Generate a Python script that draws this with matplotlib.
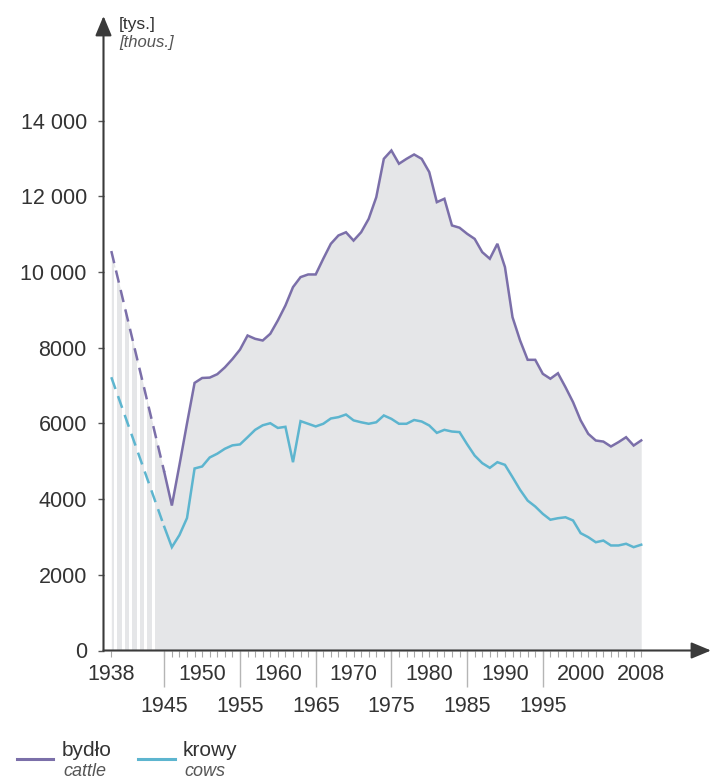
import matplotlib
matplotlib.use('Agg')
import matplotlib.pyplot as plt
import numpy as np
from matplotlib.lines import Line2D

plt.rcParams['font.family'] = ['Liberation Sans', 'DejaVu Sans']

# ---------------- data ----------------
prewar_year = 1938
prewar_cattle = 10554
prewar_cows = 7220

years = list(range(1945, 2009))
cattle = [4711, 3830, 4900, 6000, 7070, 7200, 7210, 7300, 7480, 7700,
          7950, 8322, 8235, 8190, 8368, 8720, 9115, 9600, 9865, 9935,
          9935, 10350, 10745, 10965, 11050, 10830, 11050, 11405, 11975, 12990,
          13210, 12860, 12990, 13105, 12990, 12640, 11845, 11935, 11230, 11170,
          11010, 10875, 10525, 10350, 10745, 10130, 8805, 8190, 7680, 7680,
          7310, 7180, 7325, 6955, 6560, 6080, 5725, 5548, 5520, 5390,
          5505, 5635, 5415, 5550]
cows = [3266, 2730, 3050, 3500, 4809, 4862, 5100, 5200, 5330, 5420,
        5445, 5635, 5830, 5950, 6005, 5880, 5910, 4975, 6060, 5990,
        5920, 5990, 6130, 6165, 6235, 6080, 6030, 5990, 6030, 6210,
        6120, 5990, 5990, 6090, 6050, 5945, 5750, 5830, 5785, 5770,
        5450, 5150, 4950, 4826, 4975, 4905, 4580, 4245, 3960, 3805,
        3610, 3455, 3495, 3520, 3435, 3100, 2995, 2860, 2905, 2775,
        2775, 2820, 2730, 2795]

row1_years = [1938, 1950, 1960, 1970, 1980, 1990, 2000, 2008]
row2_years = [1945, 1955, 1965, 1975, 1985, 1995]
yticks = [0, 2000, 4000, 6000, 8000, 10000, 12000, 14000]
ytick_labels = ['0', '2000', '4000', '6000', '8000', '10 000', '12 000', '14 000']
war_stripes = [1938.5, 1939.5, 1940.5, 1941.5, 1942.5, 1943.5]

unit_pl = '[tys.]'
unit_en = '[thous.]'
legend_pl = ['bydło', 'krowy']
legend_en = ['cattle', 'cows']

# ---------------- style ----------------
PURPLE = '#7b6fa9'
CYAN = '#5db5cf'
FILL = '#e5e6e8'
TXT = '#333333'
AX = '#3a3a3a'

W, H = 711, 778
fig = plt.figure(figsize=(W / 100, H / 100), dpi=100)
x0_px, y0_px, ytop_px = 103.5, 650.5, 16
ax = fig.add_axes([x0_px / W, (H - y0_px) / H, (W - x0_px) / W, (y0_px - ytop_px) / H])

px_per_year = 7.57
yr_at_1945 = 164.3
ax.set_xlim(1945 + (x0_px - yr_at_1945) / px_per_year, 1945 + (W - yr_at_1945) / px_per_year)
ax.set_ylim(0, (y0_px - ytop_px) / 75.7 * 2000)

all_years = [prewar_year] + years
all_cattle = [prewar_cattle] + cattle

ax.fill_between(all_years, 0, all_cattle, color=FILL, lw=0, zorder=1)
stripe_tops = np.interp(war_stripes, all_years, all_cattle)
ax.vlines(war_stripes, 0, stripe_tops, color='white', lw=2.2, zorder=2)

dash = (0, (5, 3))
ax.plot([prewar_year, years[0]], [prewar_cattle, cattle[0]], color=PURPLE, lw=1.8, ls=dash, zorder=3)
ax.plot([prewar_year, years[0]], [prewar_cows, cows[0]], color=CYAN, lw=1.8, ls=dash, zorder=3)
ax.plot(years, cattle, color=PURPLE, lw=1.8, zorder=4, solid_joinstyle='miter')
ax.plot(years, cows, color=CYAN, lw=1.8, zorder=4, solid_joinstyle='miter')

for s in ax.spines.values():
    s.set_visible(False)

# axes arrows
arrow = dict(arrowstyle='-|>,head_length=0.6,head_width=0.25', color=AX, lw=1.5,
             shrinkA=0, shrinkB=0, mutation_scale=20)
ax.annotate('', xy=(0, 1), xytext=(0, 0), xycoords='axes fraction', arrowprops=arrow,
            annotation_clip=False, zorder=6)
ax.annotate('', xy=(1, 0), xytext=(0, 0), xycoords='axes fraction', arrowprops=arrow,
            annotation_clip=False, zorder=6)

# y ticks
ax.set_yticks(yticks, labels=ytick_labels)
ax.tick_params(axis='y', length=4, width=1, color='#555555', pad=8, labelsize=15.5,
               labelcolor=TXT)

# x ticks
ax.set_xticks(row1_years, labels=[str(y) for y in row1_years])
ax.set_xticks(years, minor=True)
ax.tick_params(axis='x', which='both', length=4.5, width=0.8, color='#a8a8a8',
               labelsize=15.5, labelcolor=TXT, pad=5)
ax.vlines(row2_years, -36 / (y0_px - ytop_px), 0, transform=ax.get_xaxis_transform(),
          color='#b5b5b5', lw=1, clip_on=False)
for y in row2_years:
    ax.annotate(str(y), xy=(y, 0), xycoords=ax.get_xaxis_transform(),
                xytext=(0, -56 * 0.72), textcoords='offset points',
                ha='center', va='center', fontsize=15.5, color=TXT)

# unit label
fig.text(119 / W, 1 - 25 / H, unit_pl, fontsize=12.5, color=TXT, ha='left', va='center')
fig.text(119 / W, 1 - 42 / H, unit_en, fontsize=12, color='#555555', style='italic',
         ha='left', va='center')

# legend
for (lx0, lx1, tx), col, pl, en in zip([(17, 53, 62), (138, 175, 183)], [PURPLE, CYAN],
                                        legend_pl, legend_en):
    fig.add_artist(Line2D([lx0 / W, lx1 / W], [1 - 759 / H, 1 - 759 / H], color=col, lw=2.2))
    fig.text(tx / W, 1 - 750 / H, pl, fontsize=15, color=TXT, ha='left', va='center')
    fig.text((tx + 1) / W, 1 - 771 / H, en, fontsize=13, color='#555555', style='italic',
             ha='left', va='center')

fig.savefig('out.png', dpi=100)
